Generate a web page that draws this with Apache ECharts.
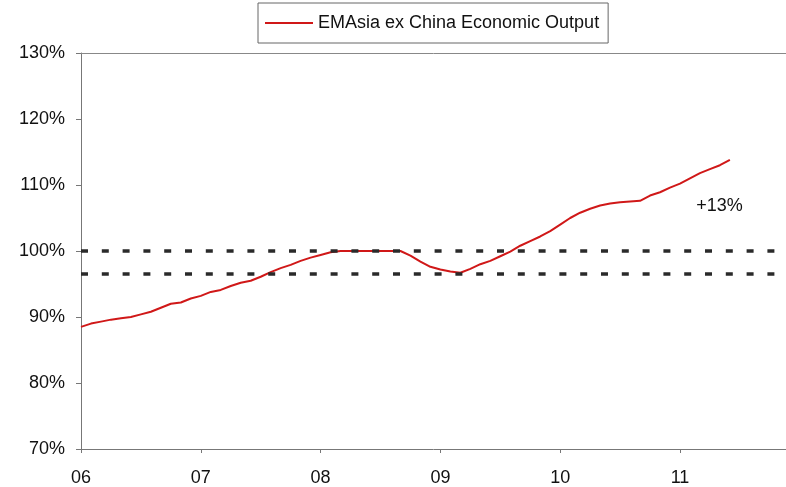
<!DOCTYPE html>
<html>
<head>
<meta charset="utf-8">
<script src="https://cdn.jsdelivr.net/npm/echarts@6/dist/echarts.min.js"></script>
<style>
html,body{margin:0;padding:0;background:#fff;}
#c{width:786px;height:487px;}
</style>
</head>
<body>
<div id="c"></div>
<script>
// Monthly observations, Jan 2006 .. Jun 2011
const startYear = 2006;
const outputValues = [
  88.5, 89.0, 89.3, 89.6, 89.8, 90.0, 90.4, 90.8, 91.4, 92.0, 92.2, 92.8,
  93.2, 93.8, 94.1, 94.7, 95.2, 95.5, 96.1, 96.8, 97.4, 97.9, 98.5, 99.0,
  99.4, 99.8, 100.0, 100.0, 100.0, 100.0, 100.0, 100.0, 100.0, 99.3, 98.4, 97.6,
  97.2, 96.9, 96.7, 97.3, 98.0, 98.5, 99.2, 99.9, 100.8, 101.5, 102.2, 103.0,
  104.0, 105.0, 105.8, 106.4, 106.9, 107.2, 107.4, 107.5, 107.6, 108.4, 108.9, 109.6,
  110.2, 111.0, 111.8, 112.4, 113.0, 113.8
];
const refLevels = [100, 96.6];
const yearTicks = ['06', '07', '08', '09', '10', '11'];
const seriesName = 'EMAsia ex China Economic Output';
const annotation = { text: '+13%', year: 2011.33, value: 106.8 };

const seriesData = outputValues.map((v, i) => [startYear + i / 12, v]);

const chart = echarts.init(document.getElementById('c'));
const FONT = '"Liberation Sans", Arial, sans-serif';
chart.setOption({
  animation: false,
  backgroundColor: '#fff',
  textStyle: { fontFamily: FONT },
  legend: {
    top: 3,
    left: 258,
    data: [seriesName],
    icon: 'rect',
    itemWidth: 48,
    itemHeight: 2,
    itemGap: 8,
    padding: [11, 9, 11, 7],
    borderColor: '#666',
    borderWidth: 1,
    borderRadius: 0,
    textStyle: { fontSize: 18, color: '#111', fontFamily: FONT }
  },
  grid: { left: 81, right: 0, top: 53, bottom: 38, containLabel: false },
  xAxis: [{
    type: 'value',
    min: 2006,
    max: 2011.885,
    interval: 1,
    axisLine: { show: true, lineStyle: { color: '#777', width: 1 } },
    axisTick: { show: true, length: 4, lineStyle: { color: '#777' } },
    splitLine: { show: false },
    axisLabel: {
      fontSize: 18,
      color: '#111',
      margin: 20,
      showMaxLabel: false,
      formatter: v => yearTicks[Math.round(v - startYear)] || ''
    }
  }, {
    type: 'value',
    position: 'top',
    min: 2006,
    max: 2011.885,
    axisLine: { show: true, lineStyle: { color: '#888', width: 1 } },
    axisTick: { show: false },
    axisLabel: { show: false },
    splitLine: { show: false }
  }],
  yAxis: {
    type: 'value',
    min: 70,
    max: 130,
    interval: 10,
    axisLine: { show: true, lineStyle: { color: '#777', width: 1 } },
    axisTick: { show: true, length: 5, lineStyle: { color: '#777' } },
    splitLine: { show: false },
    axisLabel: {
      fontSize: 18,
      color: '#111',
      margin: 16,
      formatter: v => v + '%'
    }
  },
  series: [{
    name: seriesName,
    type: 'line',
    data: seriesData,
    showSymbol: false,
    symbol: 'none',
    itemStyle: { color: '#d01818' },
    lineStyle: { color: '#d01818', width: 2 },
    markLine: {
      silent: true,
      symbol: 'none',
      label: { show: false },
      lineStyle: { color: '#2a2a2a', width: 3.5, type: [7, 13.8] },
      data: refLevels.map(v => ({ yAxis: v }))
    },
    markPoint: {
      silent: true,
      symbol: 'circle',
      symbolSize: 0,
      label: {
        show: true,
        position: 'inside',
        formatter: annotation.text,
        fontSize: 18,
        color: '#111',
        fontFamily: FONT
      },
      data: [{ coord: [annotation.year, annotation.value], value: annotation.text }]
    }
  }]
});
</script>
</body>
</html>
